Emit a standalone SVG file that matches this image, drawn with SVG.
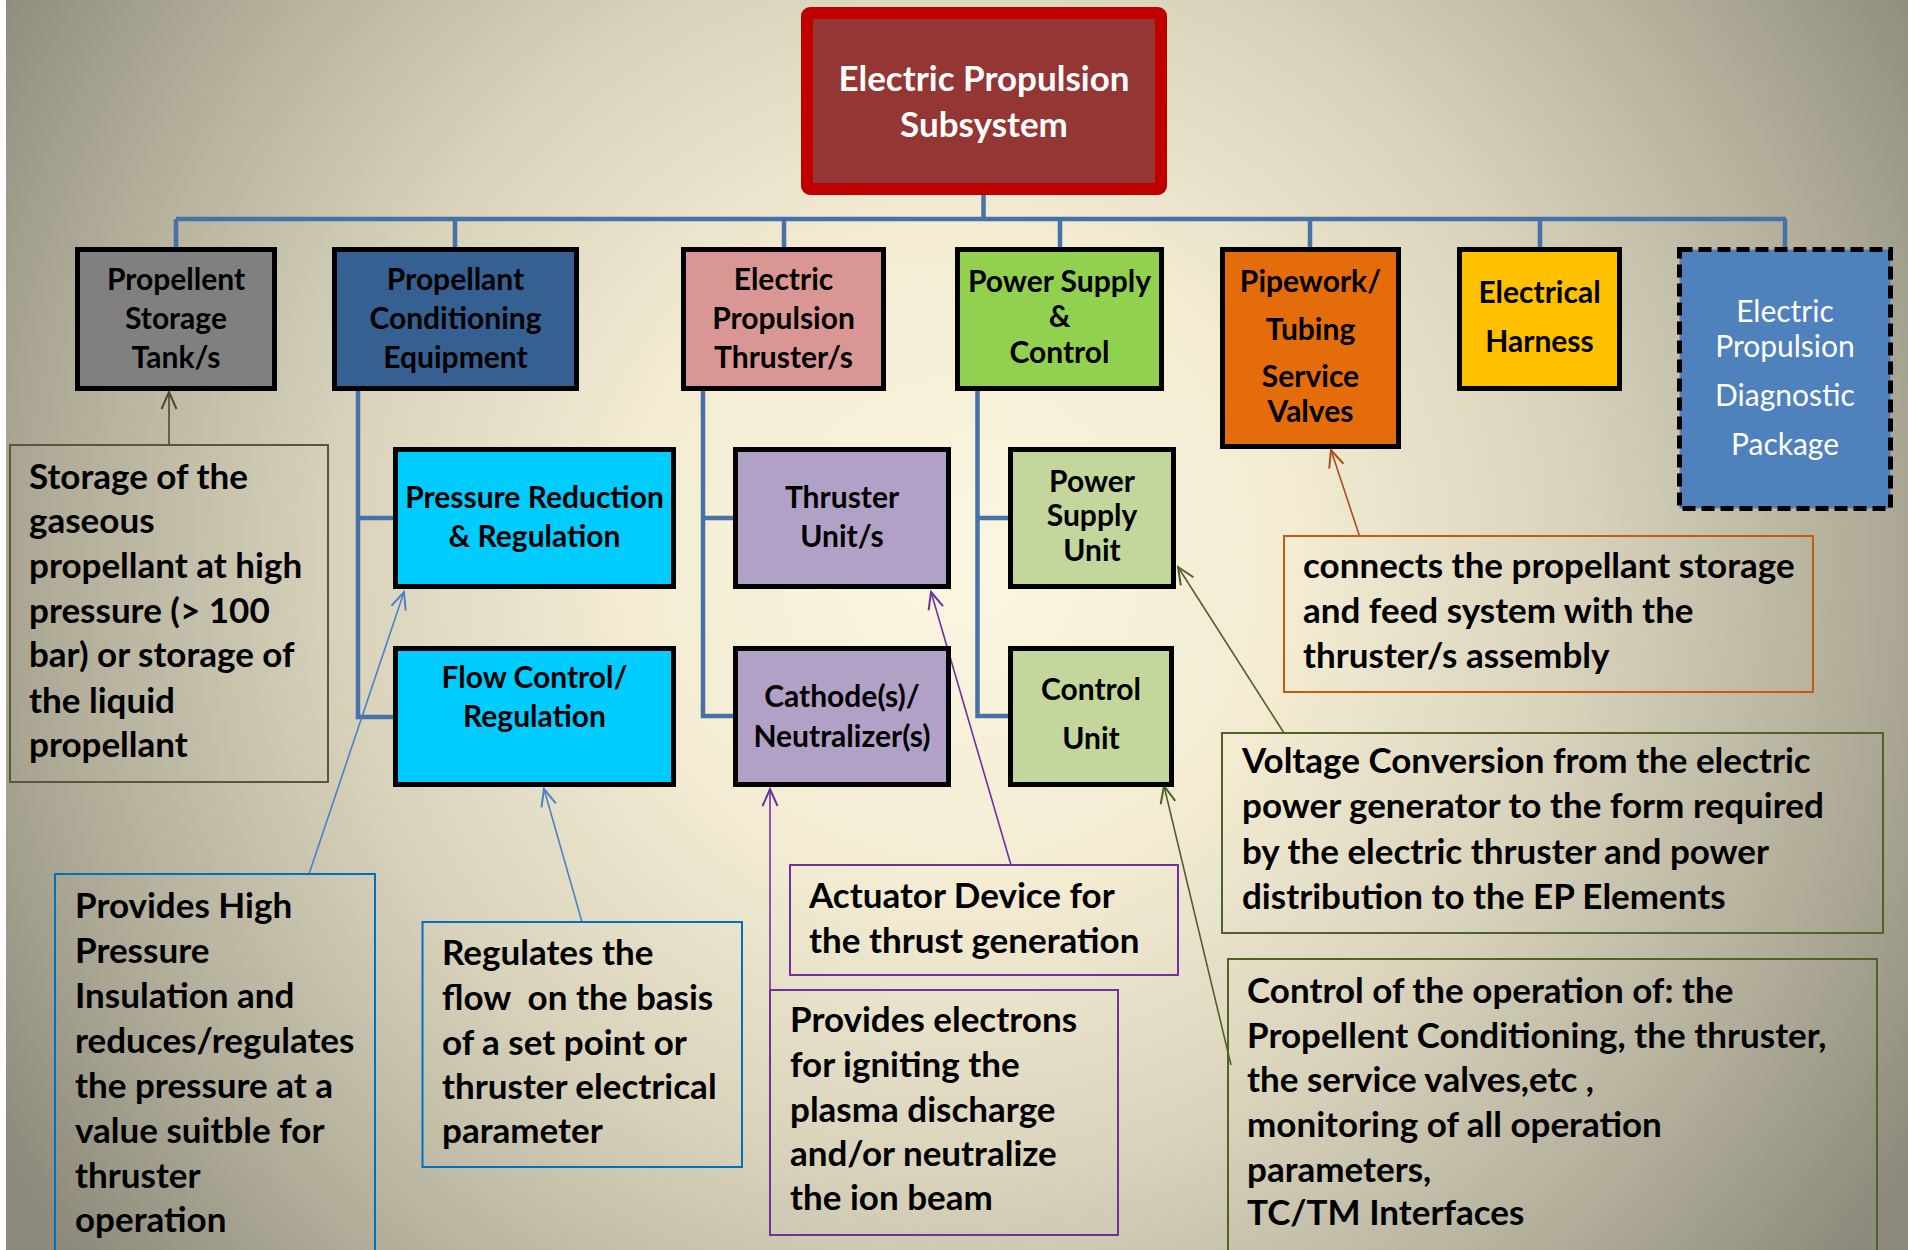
<svg xmlns="http://www.w3.org/2000/svg" width="1908" height="1250" viewBox="0 0 1908 1250">
  <defs>
    <radialGradient id="bg" gradientUnits="userSpaceOnUse" cx="960" cy="560" r="1120">
      <stop offset="0" stop-color="#fbf6e0"/>
      <stop offset="0.3" stop-color="#f3ecd3"/>
      <stop offset="0.55" stop-color="#d9d3bc"/>
      <stop offset="0.8" stop-color="#b2ae9a"/>
      <stop offset="1" stop-color="#8e8b7c"/>
    </radialGradient>
    <marker id="arrOlive" markerUnits="userSpaceOnUse" viewBox="-20 -10 22 20" refX="0" refY="0" markerWidth="22" markerHeight="20" orient="auto">
      <path d="M-17,-7.5 L0,0 L-17,7.5" fill="none" stroke="#4d4a2c" stroke-width="2"/>
    </marker>
    <marker id="arrBlue" markerUnits="userSpaceOnUse" viewBox="-20 -10 22 20" refX="0" refY="0" markerWidth="22" markerHeight="20" orient="auto">
      <path d="M-17,-7.5 L0,0 L-17,7.5" fill="none" stroke="#4a82c8" stroke-width="2"/>
    </marker>
    <marker id="arrPurple" markerUnits="userSpaceOnUse" viewBox="-20 -10 22 20" refX="0" refY="0" markerWidth="22" markerHeight="20" orient="auto">
      <path d="M-17,-7.5 L0,0 L-17,7.5" fill="none" stroke="#7030a0" stroke-width="2"/>
    </marker>
    <marker id="arrBrown" markerUnits="userSpaceOnUse" viewBox="-20 -10 22 20" refX="0" refY="0" markerWidth="22" markerHeight="20" orient="auto">
      <path d="M-17,-7.5 L0,0 L-17,7.5" fill="none" stroke="#a8501c" stroke-width="2"/>
    </marker>
    <marker id="arrGreen" markerUnits="userSpaceOnUse" viewBox="-20 -10 22 20" refX="0" refY="0" markerWidth="22" markerHeight="20" orient="auto">
      <path d="M-17,-7.5 L0,0 L-17,7.5" fill="none" stroke="#4f6228" stroke-width="2"/>
    </marker>
  </defs>
  <style>
    text { font-family: Lato, "Open Sans", "Liberation Sans", sans-serif; }
    .box { stroke: #000; stroke-width: 5; }
    .nt { font-size: 30px; font-weight: bold; fill: #000; text-anchor: middle; }
    .ct { font-size: 35px; font-weight: bold; fill: #000; }
    .dt { font-size: 30px; fill: #fff; text-anchor: middle; }
    .tree { fill: none; stroke: #4672a8; stroke-width: 4.5; }
    .lead { fill: none; stroke-width: 1.6; }
    .call { fill: none; stroke-width: 2; }
  </style>

  <!-- backdrop -->
  <rect x="0" y="0" width="1908" height="1250" fill="#ffffff"/>
  <rect x="6" y="0" width="1902" height="1250" fill="url(#bg)"/>

  <!-- tree connectors and callout leaders -->
  <g id="connectors">
    <path class="tree" d="M983.5,195 V219 M176,219 H1786 M176,219 V247 M455,219 V247 M784,219 V247 M1060,219 V247 M1310,219 V247 M1540,219 V247 M1785,219 V247"/>
    <path class="tree" d="M358,391 V717 H393 M358,518 H393"/>
    <path class="tree" d="M703,391 V716 H733 M703,518 H733"/>
    <path class="tree" d="M977.5,391 V716 H1008 M977.5,518 H1008"/>

    <line class="lead" x1="169" y1="445" x2="169" y2="392" stroke="#4d4a2c" marker-end="url(#arrOlive)"/>
    <line class="lead" x1="309" y1="874" x2="404" y2="592" stroke="#4a82c8" marker-end="url(#arrBlue)"/>
    <line class="lead" x1="582" y1="922" x2="544" y2="789" stroke="#4a82c8" marker-end="url(#arrBlue)"/>
    <line class="lead" x1="1011" y1="865" x2="931" y2="592" stroke="#7030a0" marker-end="url(#arrPurple)"/>
    <line class="lead" x1="770" y1="990" x2="770" y2="789" stroke="#7030a0" marker-end="url(#arrPurple)"/>
    <line class="lead" x1="1359.5" y1="536" x2="1331" y2="450" stroke="#a8501c" marker-end="url(#arrBrown)"/>
    <line class="lead" x1="1284" y1="733" x2="1178" y2="567" stroke="#4f6228" marker-end="url(#arrGreen)"/>
    <line class="lead" x1="1231" y1="1065" x2="1164" y2="786" stroke="#4f6228" marker-end="url(#arrGreen)"/>
  </g>

  <!-- root -->
  <g id="ep-subsystem">
    <rect x="807" y="13" width="354" height="176" rx="3" fill="#943634" stroke="#c00000" stroke-width="12"/>
    <text x="984" y="91" font-size="35" font-weight="bold" fill="#fff" text-anchor="middle">Electric Propulsion</text>
    <text x="984" y="137" font-size="35" font-weight="bold" fill="#fff" text-anchor="middle">Subsystem</text>
  </g>

  <!-- first level -->
  <g id="storage-tank">
    <rect class="box" x="77.5" y="249.5" width="197" height="139" fill="#808080"/>
    <text class="nt" x="176" y="290">Propellent</text>
    <text class="nt" x="176" y="329">Storage</text>
    <text class="nt" x="176" y="368">Tank/s</text>
  </g>
  <g id="conditioning">
    <rect class="box" x="334.5" y="249.5" width="242" height="139" fill="#366092"/>
    <text class="nt" x="455.5" y="290">Propellant</text>
    <text class="nt" x="455.5" y="329">Conditioning</text>
    <text class="nt" x="455.5" y="368">Equipment</text>
  </g>
  <g id="thrusters">
    <rect class="box" x="683.5" y="249.5" width="200" height="139" fill="#da9694"/>
    <text class="nt" x="783.5" y="290">Electric</text>
    <text class="nt" x="783.5" y="329">Propulsion</text>
    <text class="nt" x="783.5" y="368">Thruster/s</text>
  </g>
  <g id="power-supply-control">
    <rect class="box" x="957.5" y="249.5" width="204" height="139" fill="#92d050"/>
    <text class="nt" x="1059.5" y="292">Power Supply</text>
    <text class="nt" x="1059.5" y="327">&amp;</text>
    <text class="nt" x="1059.5" y="363">Control</text>
  </g>
  <g id="pipework">
    <rect class="box" x="1222.5" y="249.5" width="176" height="197" fill="#e46c0a"/>
    <text class="nt" x="1310.5" y="292">Pipework/</text>
    <text class="nt" x="1310.5" y="340">Tubing</text>
    <text class="nt" x="1310.5" y="387">Service</text>
    <text class="nt" x="1310.5" y="422">Valves</text>
  </g>
  <g id="harness">
    <rect class="box" x="1459.5" y="249.5" width="160" height="139" fill="#ffc000"/>
    <text class="nt" x="1539.5" y="303">Electrical</text>
    <text class="nt" x="1539.5" y="352">Harness</text>
  </g>
  <g id="diagnostic">
    <rect x="1679.5" y="249.5" width="211" height="259" fill="#4f81bd" stroke="#000" stroke-width="5" stroke-dasharray="13,6"/>
    <text class="dt" x="1785" y="322">Electric</text>
    <text class="dt" x="1785" y="357">Propulsion</text>
    <text class="dt" x="1785" y="406">Diagnostic</text>
    <text class="dt" x="1785" y="455">Package</text>
  </g>

  <!-- second level -->
  <g id="pressure-regulation">
    <rect class="box" x="395.5" y="449.5" width="278" height="137" fill="#00ccff"/>
    <text class="nt" x="534.5" y="508">Pressure Reduction</text>
    <text class="nt" x="534.5" y="547">&amp; Regulation</text>
  </g>
  <g id="flow-control">
    <rect class="box" x="395.5" y="648.5" width="278" height="136" fill="#00ccff"/>
    <text class="nt" x="534.5" y="688">Flow Control/</text>
    <text class="nt" x="534.5" y="727">Regulation</text>
  </g>
  <g id="thruster-unit">
    <rect class="box" x="735.5" y="449.5" width="213" height="137" fill="#b2a1c7"/>
    <text class="nt" x="842" y="508">Thruster</text>
    <text class="nt" x="842" y="547">Unit/s</text>
  </g>
  <g id="cathode">
    <rect class="box" x="735.5" y="648.5" width="213" height="136" fill="#b2a1c7"/>
    <text class="nt" x="842" y="707">Cathode(s)/</text>
    <text class="nt" x="842" y="747">Neutralizer(s)</text>
  </g>
  <g id="power-supply-unit">
    <rect class="box" x="1010.5" y="449.5" width="163" height="137" fill="#c3d69b"/>
    <text class="nt" x="1092" y="492">Power</text>
    <text class="nt" x="1092" y="526">Supply</text>
    <text class="nt" x="1092" y="561">Unit</text>
  </g>
  <g id="control-unit">
    <rect class="box" x="1010.5" y="648.5" width="161" height="136" fill="#c3d69b"/>
    <text class="nt" x="1091" y="700">Control</text>
    <text class="nt" x="1091" y="749">Unit</text>
  </g>

  <!-- callouts -->
  <g id="note-storage">
    <rect class="call" x="10" y="445" width="318" height="337" stroke="#5a563a"/>
    <text class="ct" x="29" y="489">Storage of the</text>
    <text class="ct" x="29" y="533">gaseous</text>
    <text class="ct" x="29" y="578">propellant at high</text>
    <text class="ct" x="29" y="623">pressure (&gt; 100</text>
    <text class="ct" x="29" y="667">bar) or storage of</text>
    <text class="ct" x="29" y="713">the liquid</text>
    <text class="ct" x="29" y="757">propellant</text>
  </g>
  <g id="note-pressure">
    <rect class="call" x="55" y="874" width="320" height="390" stroke="#0070c0"/>
    <text class="ct" x="75" y="918">Provides High</text>
    <text class="ct" x="75" y="963">Pressure</text>
    <text class="ct" x="75" y="1008">Insulation and</text>
    <text class="ct" x="75" y="1053">reduces/regulates</text>
    <text class="ct" x="75" y="1098">the pressure at a</text>
    <text class="ct" x="75" y="1143">value suitble for</text>
    <text class="ct" x="75" y="1188">thruster</text>
    <text class="ct" x="75" y="1232">operation</text>
  </g>
  <g id="note-flow">
    <rect class="call" x="422.5" y="922" width="319.5" height="245" stroke="#0070c0"/>
    <text class="ct" x="442" y="965">Regulates the</text>
    <text class="ct" x="442" y="1010" xml:space="preserve">flow  on the basis</text>
    <text class="ct" x="442" y="1055">of a set point or</text>
    <text class="ct" x="442" y="1099">thruster electrical</text>
    <text class="ct" x="442" y="1143">parameter</text>
  </g>
  <g id="note-actuator">
    <rect class="call" x="790" y="865" width="388" height="110" stroke="#7030a0"/>
    <text class="ct" x="809" y="908">Actuator Device for</text>
    <text class="ct" x="809" y="953">the thrust generation</text>
  </g>
  <g id="note-electrons">
    <rect class="call" x="770" y="990" width="348" height="245" stroke="#7030a0"/>
    <text class="ct" x="790" y="1032">Provides electrons</text>
    <text class="ct" x="790" y="1077">for igniting the</text>
    <text class="ct" x="790" y="1122">plasma discharge</text>
    <text class="ct" x="790" y="1166">and/or neutralize</text>
    <text class="ct" x="790" y="1210">the ion beam</text>
  </g>
  <g id="note-pipework">
    <rect class="call" x="1284" y="536" width="529" height="156" stroke="#c55a11"/>
    <text class="ct" x="1303" y="578">connects the propellant storage</text>
    <text class="ct" x="1303" y="623">and feed system with the</text>
    <text class="ct" x="1303" y="668">thruster/s assembly</text>
  </g>
  <g id="note-voltage">
    <rect class="call" x="1222" y="733" width="661" height="200" stroke="#4f6228"/>
    <text class="ct" x="1242" y="773">Voltage Conversion from the electric</text>
    <text class="ct" x="1242" y="818">power generator to the form required</text>
    <text class="ct" x="1242" y="864">by the electric thruster and power</text>
    <text class="ct" x="1242" y="909">distribution to the EP Elements</text>
  </g>
  <g id="note-control">
    <rect class="call" x="1228" y="959" width="649" height="305" stroke="#4f6228"/>
    <text class="ct" x="1247" y="1003">Control of the operation of: the</text>
    <text class="ct" x="1247" y="1048">Propellent Conditioning, the thruster,</text>
    <text class="ct" x="1247" y="1092">the service valves,etc ,</text>
    <text class="ct" x="1247" y="1137">monitoring of all operation</text>
    <text class="ct" x="1247" y="1182">parameters,</text>
    <text class="ct" x="1247" y="1225">TC/TM Interfaces</text>
  </g>
</svg>
